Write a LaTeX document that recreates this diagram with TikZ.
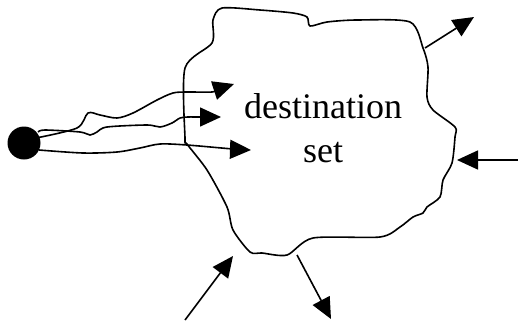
\documentclass[tikz,border=0pt]{standalone}
\usepackage{fontspec}
\newfontfamily\tnr{Liberation Serif}
\usetikzlibrary{arrows.meta}
\begin{document}
\begin{tikzpicture}[x=1pt,y=-1pt,line join=round,
  stroke/.style={line width=1.6pt},
  arr/.style={stroke,-{Triangle[length=21pt,width=19pt]}},
  lbl/.style={font=\tnr\fontsize{36}{44}\selectfont,anchor=base,inner sep=0pt}]
\useasboundingbox (0,0) rectangle (518,322);
% blob
\draw[stroke] plot[smooth cycle,tension=0.45] coordinates {
 (222,8) (260,10) (293,13) (307,17) (310,26) (327,22) (357,20) (410,22)
 (423,48) (428,67) (427,97) (433,110) (455,127) (455,137) (452,163)
 (443,180) (440,197) (427,207) (423,213) (413,217) (400,227) (380,237)
 (313,238) (287,255) (262,253) (250,252) (233,230) (227,207) (207,170)
 (187,144) (185,138) (185,68) (212,43) (213,20)};
% source dot
\fill (24,143) circle (16.5);
% wiggly paths
\draw[arr] plot[smooth,tension=0.5] coordinates {
 (36,138) (77,128) (88,113) (100,115) (117,118) (133,113) (157,100)
 (173,93) (187,92) (212,92) (219,89) (234,84)};
\draw[arr] plot[smooth,tension=0.5] coordinates {
 (38,132) (45,130) (80,132) (90,135) (97,132) (107,127) (147,125)
 (160,127) (172,123) (180,118) (188,117) (200,117) (221,117)};
\draw[arr] plot[smooth,tension=0.5] coordinates {
 (39,150) (83,153) (117,152) (140,148) (160,144) (187,145) (233,149) (251,150)};
% text
\node[lbl] (dest) at (323,118) {destination};
\node[lbl] (set) at (323,162) {set};
% outer arrows
\coordinate (tra) at (425,48);  \coordinate (trb) at (474,17);
\coordinate (ra) at (518,160);  \coordinate (rb) at (457,160);
\coordinate (ba) at (297,255);  \coordinate (bb) at (331,319);
\coordinate (bla) at (185,320); \coordinate (blb) at (233,256);
\draw[arr] (tra) -- (trb);
\draw[arr] (ra) -- (rb);
\draw[arr] (ba) -- (bb);
\draw[arr] (bla) -- (blb);
\end{tikzpicture}
\end{document}
